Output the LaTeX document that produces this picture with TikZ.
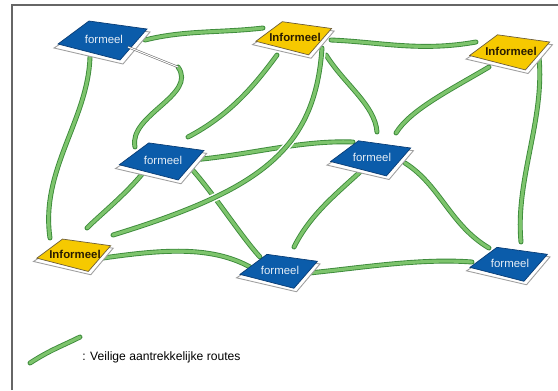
\documentclass[tikz,border=0pt]{standalone}
\usepackage{fontspec}
\setmainfont{Liberation Sans}
\pgfdeclarelayer{background}
\pgfsetlayers{background,main}
\definecolor{tegelblauw}{HTML}{0B5CAA}
\definecolor{tegelrand}{HTML}{0A3D75}
\definecolor{tegelgeel}{HTML}{F6C900}
\definecolor{geelrand}{HTML}{6E5E3A}
\definecolor{routedonker}{HTML}{3C8A3A}
\definecolor{routelicht}{HTML}{7DC46C}
\definecolor{tekstblauw}{HTML}{E6EEF6}
\definecolor{tekstgeel}{HTML}{2A1C00}
\tikzset{route/.style={draw=routedonker, line width=0.5pt,
  double=routelicht, double distance=1.8pt, line cap=round}}
\tikzset{kruising/.style={preaction={draw=white, line width=4.5pt}}}
\tikzset{onderlaag/.style={draw=gray!75, fill=white, line width=0.5pt}}
\tikzset{tegeltekst/.style={font=\fontsize{6.5}{7}\selectfont, inner sep=1pt}}

\begin{document}
\begin{tikzpicture}[x=0.02cm, y=-0.02cm]
      \useasboundingbox (0,0) rectangle (558,390);
      \draw [gray!80!black, line width=0.8pt] (12,390) -- (12,5) -- (558,5);

      % tegels
      \foreach \nm/\px/\py/\sc/\vul/\rand/\inkt/\txt in {
          fNW/104/39/1.0/tegelblauw/tegelrand/tekstblauw/formeel,
          iN/295/37/0.85/tegelgeel/geelrand/tekstgeel/\textbf{Informeel},
          iNE/511/51/0.9/tegelgeel/geelrand/tekstgeel/\textbf{Informeel},
          fW/163/160/0.95/tegelblauw/tegelrand/tekstblauw/formeel,
          fE/372/157/0.9/tegelblauw/tegelrand/tekstblauw/formeel,
          iSW/75/254/0.83/tegelgeel/geelrand/tekstgeel/\textbf{Informeel},
          fS/280/270/0.87/tegelblauw/tegelrand/tekstblauw/formeel,
          fSE/510/263/0.87/tegelblauw/tegelrand/tekstblauw/formeel} {
        \begin{scope}[shift={(\px,\py)}, scale=\sc]
          \draw [onderlaag] (-50,9) -- (-13,-15) -- (46,-7) -- (19,25) -- cycle;
          \draw [fill=\vul, draw=\rand, line width=0.4pt]
            (-46,5) -- (-15,-18) -- (43,-10) -- (16,21) -- cycle;
        \end{scope}
        \node [tegeltekst, text=\inkt] (\nm) at (\px,\py) {\txt};
      }

      \coordinate (knik) at (178,67);
      \draw [gray!70!black, line width=0.3pt, double=white, double distance=0.6pt]
        ([shift={(24,8)}]fNW.center) -- (knik);

      % routes
      \begin{pgfonlayer}{background}
      \draw [route] ([shift={(41,1)}]fNW.center) .. controls (185,30) and (220,33) .. ([shift={(-32,-9)}]iN.center);
      \draw [route] ([shift={(-14,18)}]fNW.center) .. controls (88,120) and (40,170) .. ([shift={(-25,-16)}]iSW.center);
      \draw [route] (knik) .. controls (198,95) and (128,115) .. ([shift={(-28,-13)}]fW.center);
      \draw [route] ([shift={(36,3)}]iN.center) .. controls (380,42) and (420,52) .. ([shift={(-35,-9)}]iNE.center);
      \draw [route] ([shift={(-18,18)}]iN.center) .. controls (255,85) and (230,115) .. ([shift={(25,-23)}]fW.center);
      \draw [route] ([shift={(31,18)}]iN.center) .. controls (345,85) and (375,105) .. ([shift={(5,-25)}]fE.center);
      \draw [route] ([shift={(29,0)}]fW.center) .. controls (250,155) and (300,140) .. ([shift={(-19,-15)}]fE.center);
      \draw [route] ([shift={(-20,13)}]fW.center) .. controls (125,195) and (100,215) .. ([shift={(12,-26)}]iSW.center);
      \draw [route] ([shift={(27,7)}]fW.center) .. controls (215,195) and (240,235) .. ([shift={(-20,-13)}]fS.center);
      \draw [route, kruising] ([shift={(27,11)}]iN.center) .. controls (315,150) and (260,190) .. ([shift={(38,-19)}]iSW.center);
      \draw [route] ([shift={(-12,15)}]fE.center) .. controls (335,195) and (310,215) .. ([shift={(14,-23)}]fS.center);
      \draw [route] ([shift={(33,6)}]fE.center) .. controls (440,185) and (450,225) .. ([shift={(-21,-15)}]fSE.center);
      \draw [route] ([shift={(-22,16)}]iNE.center) .. controls (450,90) and (410,110) .. ([shift={(24,-24)}]fE.center);
      \draw [route] ([shift={(28,6)}]iNE.center) .. controls (545,120) and (515,180) .. ([shift={(11,-21)}]fSE.center);
      \draw [route] ([shift={(28,4)}]iSW.center) .. controls (160,250) and (210,245) .. ([shift={(-30,-3)}]fS.center);
      \draw [route] ([shift={(29,3)}]fS.center) .. controls (360,268) and (420,258) .. ([shift={(-38,-1)}]fSE.center);
      \end{pgfonlayer}

      % legenda
      \coordinate (legA) at (30,363);
      \coordinate (legB) at (80,337);
      \draw [route] (legA) .. controls (50,350) and (62,346) .. (legB);
      \node [anchor=west, font=\fontsize{6.9}{8}\selectfont, inner sep=0pt] (legtekst) at (82,357) {: Veilige aantrekkelijke routes};
    \end{tikzpicture}
\end{document}
